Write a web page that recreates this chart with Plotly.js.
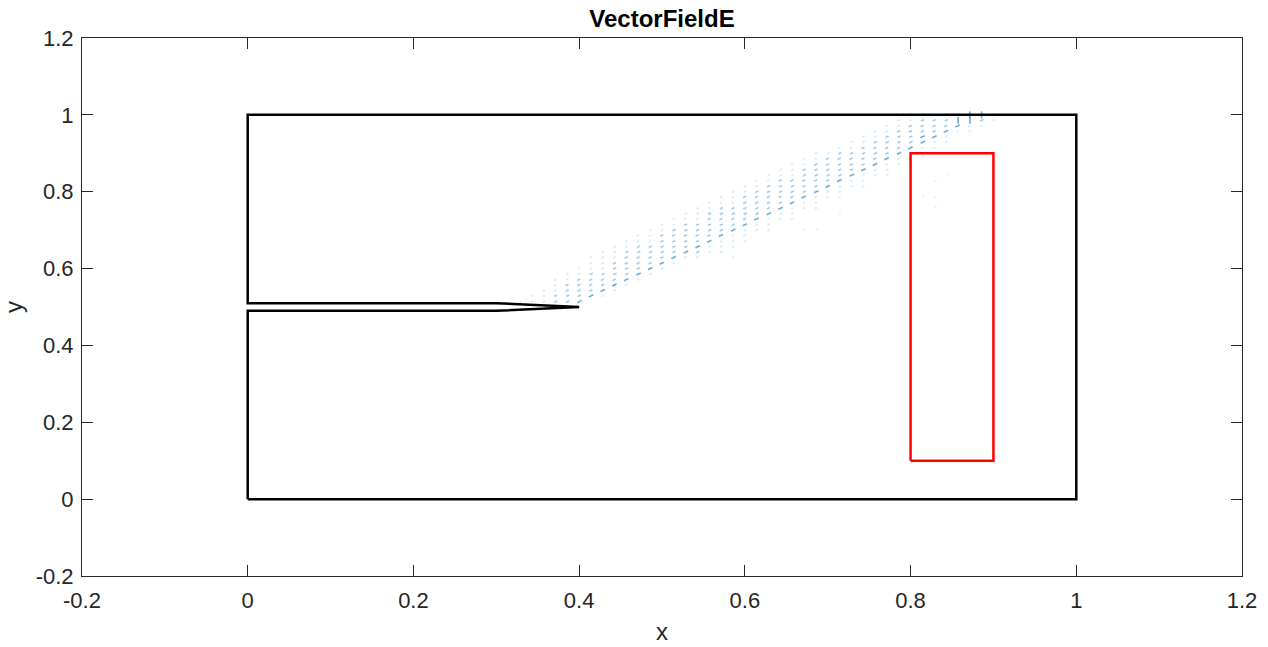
<!DOCTYPE html>
<html>
<head>
<meta charset="utf-8">
<script src="https://cdn.plot.ly/plotly-3.0.1.min.js"></script>
<style>
  html, body { margin: 0; padding: 0; background: #ffffff; }
  #chart { width: 1268px; height: 647px; }
</style>
</head>
<body>
<div id="chart"></div>
<script>
// ---------- data ----------
// outer domain boundary with the crack (data coordinates)
const boundaryX = [0, 1, 1, 0, 0, 0.3, 0.4, 0.3, 0, 0];
const boundaryY = [0, 0, 1, 1, 0.51, 0.51, 0.5, 0.49, 0.49, 0];

// red rectangle
const rectX = [0.8, 0.9, 0.9, 0.8, 0.8];
const rectY = [0.1, 0.1, 0.9, 0.9, 0.1];

// vector field: grid step, rows (y), first x of each row and arrow magnitude per column
const fieldStep = 0.01429;
const fieldRowY = [0.514, 0.529, 0.543, 0.557, 0.571, 0.586, 0.600, 0.614, 0.629, 0.643,
                   0.657, 0.671, 0.686, 0.700, 0.714, 0.729, 0.743, 0.757, 0.771, 0.786,
                   0.800, 0.814, 0.829, 0.843, 0.857, 0.871, 0.886, 0.900, 0.914, 0.929,
                   0.943, 0.957, 0.971, 0.986, 1.000];
const fieldRowX0 = [0.329, 0.343, 0.357, 0.371, 0.371, 0.386, 0.400, 0.414, 0.414, 0.429,
                    0.443, 0.457, 0.471, 0.486, 0.500, 0.514, 0.529, 0.543, 0.557, 0.571,
                    0.586, 0.600, 0.614, 0.629, 0.643, 0.657, 0.671, 0.686, 0.714, 0.729,
                    0.743, 0.757, 0.771, 0.786, 0.800];
const fieldRowMag = [
  [1,1,1,2,2,3],
  [1,1,2,2,2,3,1],
  [1,1,2,2,2,3,1],
  [1,2,2,2,2,3,1],
  [1,1,2,2,2,2,3,1],
  [1,1,2,2,2,2,3,1],
  [1,1,1,2,2,2,3,1],
  [1,1,2,2,2,2,3,1],
  [1,1,1,2,2,2,2,3,1,1],
  [1,1,2,2,2,2,2,3,2,1,1],
  [1,1,2,2,2,2,2,3,1,1,1],
  [1,1,1,2,2,2,2,3,1,1,1],
  [1,1,2,2,2,2,2,3,1,1],
  [1,1,2,2,2,2,2,3,1,1,1],
  [1,1,2,2,2,2,2,3,1,1],
  [1,1,1,2,2,2,2,3,1,1,1],
  [1,1,2,2,2,2,2,3,1,1],
  [1,1,2,2,2,2,2,3,1,1,1],
  [1,1,1,2,2,2,2,3,1,1],
  [1,1,2,2,2,2,2,3,1,1,1],
  [1,1,2,2,2,2,2,3,1,1],
  [1,1,2,2,2,2,2,3,1,1,1],
  [1,1,2,2,2,2,2,3,1,1],
  [1,1,1,2,2,2,2,3,1,1,1],
  [1,1,2,2,2,2,2,3,1,1],
  [1,1,2,2,2,2,2,3,1,1,1],
  [1,1,2,2,2,2,2,3,1,1],
  [1,1,2,2,2,2,2,3,1,1],
  [1,1,2,2,2,2,3,1,1],
  [1,1,2,2,2,2,3,1,1],
  [1,1,2,2,2,3,3,1],
  [1,1,2,2,2,2,3,1,1],
  [1,1,2,2,2,2,3,1,1],
  [1,1,2,2,2,3,3,2,1],
  [1,1,1,2,2,3,3,1]
];
// a few isolated faint arrows outside the band
const strayX = [0.586, 0.672, 0.687, 0.715, 0.815, 0.844, 0.830, 0.815, 0.830, 0.830];
const strayY = [0.630, 0.702, 0.702, 0.743, 0.891, 0.845, 0.828, 0.788, 0.786, 0.761];

// axis ticks
const tickVals = [-0.2, 0, 0.2, 0.4, 0.6, 0.8, 1, 1.2];
const tickText = ['-0.2', '0', '0.2', '0.4', '0.6', '0.8', '1', '1.2'];

// ---------- build quiver marks ----------
const qx = [], qy = [], qc = [], qs = [], qa = [];
const alphaFor = {1: 0.2, 2: 0.5, 3: 0.8};
const sizeFor = {1: 2, 2: 2.5, 3: 3.5};
fieldRowY.forEach((y, r) => {
  fieldRowMag[r].forEach((m, k) => {
    qx.push(fieldRowX0[r] + k * fieldStep);
    qy.push(y);
    qc.push('rgba(0,114,189,' + alphaFor[m] + ')');
    const top = y > 0.98 && m === 3;
    qs.push(top ? 5 : sizeFor[m]);
    qa.push(top ? 90 : -25);
  });
});
strayX.forEach((x, i) => {
  qx.push(x); qy.push(strayY[i]);
  qc.push('rgba(0,114,189,0.13)'); qs.push(2); qa.push(-25);
});

const axisColor = '#262626';
const fontFam = '"Liberation Sans", Arial, sans-serif';

const traces = [
  {
    type: 'scatter', mode: 'markers', x: qx, y: qy,
    marker: { symbol: 'line-ew-open', size: qs, color: qc, angle: qa, line: { width: 1.7 } },
    hoverinfo: 'skip', showlegend: false
  },
  {
    type: 'scatter', mode: 'lines', x: boundaryX, y: boundaryY,
    line: { color: '#000000', width: 2.5 }, showlegend: false
  },
  {
    type: 'scatter', mode: 'lines', x: rectX, y: rectY,
    line: { color: '#ff0000', width: 2.5 }, showlegend: false
  }
];

function axis(titleText, standoff, labelStandoff) {
  return {
    range: [-0.2, 1.2], tickvals: tickVals, ticktext: tickText,
    showline: true, mirror: 'ticks', linecolor: axisColor, linewidth: 1,
    ticks: 'inside', ticklen: 11, tickcolor: axisColor, tickwidth: 1,
    ticklabelstandoff: labelStandoff,
    showgrid: false, zeroline: false,
    tickfont: { family: fontFam, size: 22, color: axisColor },
    title: { text: titleText, standoff: standoff, font: { family: fontFam, size: 24, color: axisColor } }
  };
}

const layout = {
  width: 1268, height: 647,
  margin: { l: 82, r: 26, t: 38, b: 71, pad: 0 },
  paper_bgcolor: '#ffffff', plot_bgcolor: '#ffffff',
  title: {
    text: '<b>VectorFieldE</b>',
    font: { family: fontFam, size: 24, color: '#000000' },
    x: 0.5, xref: 'paper', xanchor: 'center',
    y: 0.972, yref: 'container', yanchor: 'middle'
  },
  xaxis: axis('x', 10, 5),
  yaxis: axis('y', 6, 3),
  showlegend: false
};

Plotly.newPlot('chart', traces, layout, { displayModeBar: false, staticPlot: true });
</script>
</body>
</html>
